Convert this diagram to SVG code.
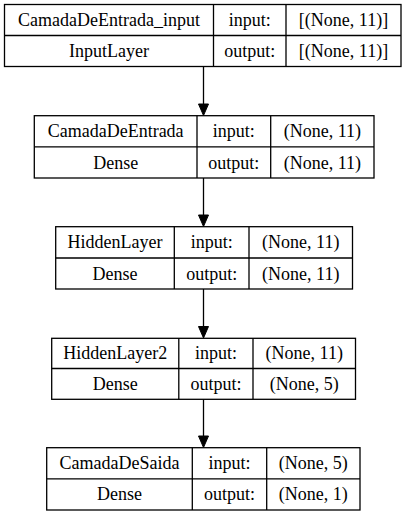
<svg xmlns="http://www.w3.org/2000/svg" width="408" height="516" viewBox="0 0 408 516">
<style>
.b{fill:#fff;stroke:#000;stroke-width:1.3}
.l{stroke:#000;stroke-width:1.3;fill:none}
.e{stroke:#000;stroke-width:1.3;fill:none}
.h{fill:#000;stroke:#000;stroke-width:1}
</style>
<rect width="408" height="516" fill="#fff"/>
<g id="connectors">
<path class="e" d="M203.5 66.5V104"/><path class="h" d="M198.5 104h10l-5 11.5z"/>
<path class="e" d="M203.5 178V215"/><path class="h" d="M198.5 215h10l-5 11.5z"/>
<path class="e" d="M203.5 289V326.5"/><path class="h" d="M198.5 326.5h10l-5 11.5z"/>
<path class="e" d="M203.5 399.3V436"/><path class="h" d="M198.5 436h10l-5 11.5z"/>
</g>
<g font-family="Liberation Serif, DejaVu Serif, serif" font-size="18" fill="#000" text-anchor="middle">
<g id="node1">
<rect class="b" x="4.5" y="4.5" width="396.5" height="62"/>
<path class="l" d="M4.5 35.5H401M213.5 4.5V66.5M286 4.5V66.5"/>
<text x="109" y="26">CamadaDeEntrada_input</text>
<text x="249.75" y="26">input:</text>
<text x="343.5" y="26">[(None, 11)]</text>
<text x="109" y="57">InputLayer</text>
<text x="249.75" y="57">output:</text>
<text x="343.5" y="57">[(None, 11)]</text>
</g>
<g id="node2">
<rect class="b" x="34.3" y="115.7" width="339.7" height="62.3"/>
<path class="l" d="M34.3 146.8H374M197 115.7V178M270.7 115.7V178"/>
<text x="115.65" y="137.2">CamadaDeEntrada</text>
<text x="233.85" y="137.2">input:</text>
<text x="322.35" y="137.2">(None, 11)</text>
<text x="115.65" y="168.5">Dense</text>
<text x="233.85" y="168.5">output:</text>
<text x="322.35" y="168.5">(None, 11)</text>
</g>
<g id="node3">
<rect class="b" x="55.7" y="226.7" width="296.8" height="62.3"/>
<path class="l" d="M55.7 258H352.5M174.3 226.7V289M249 226.7V289"/>
<text x="115" y="248.4">HiddenLayer</text>
<text x="211.65" y="248.4">input:</text>
<text x="300.75" y="248.4">(None, 11)</text>
<text x="115" y="279.5">Dense</text>
<text x="211.65" y="279.5">output:</text>
<text x="300.75" y="279.5">(None, 11)</text>
</g>
<g id="node4">
<rect class="b" x="51.7" y="338.3" width="303.8" height="61"/>
<path class="l" d="M51.7 368.5H355.5M178.8 338.3V399.3M253 338.3V399.3"/>
<text x="115.25" y="359.4">HiddenLayer2</text>
<text x="215.9" y="359.4">input:</text>
<text x="304.25" y="359.4">(None, 11)</text>
<text x="115.25" y="389.9">Dense</text>
<text x="215.9" y="389.9">output:</text>
<text x="304.25" y="389.9">(None, 5)</text>
</g>
<g id="node5">
<rect class="b" x="46.7" y="447.7" width="313.3" height="62.3"/>
<path class="l" d="M46.7 478.8H360M192.3 447.7V510M266.7 447.7V510"/>
<text x="119.5" y="469.2">CamadaDeSaida</text>
<text x="229.5" y="469.2">input:</text>
<text x="313.35" y="469.2">(None, 5)</text>
<text x="119.5" y="500.4">Dense</text>
<text x="229.5" y="500.4">output:</text>
<text x="313.35" y="500.4">(None, 1)</text>
</g>
</g>
</svg>
